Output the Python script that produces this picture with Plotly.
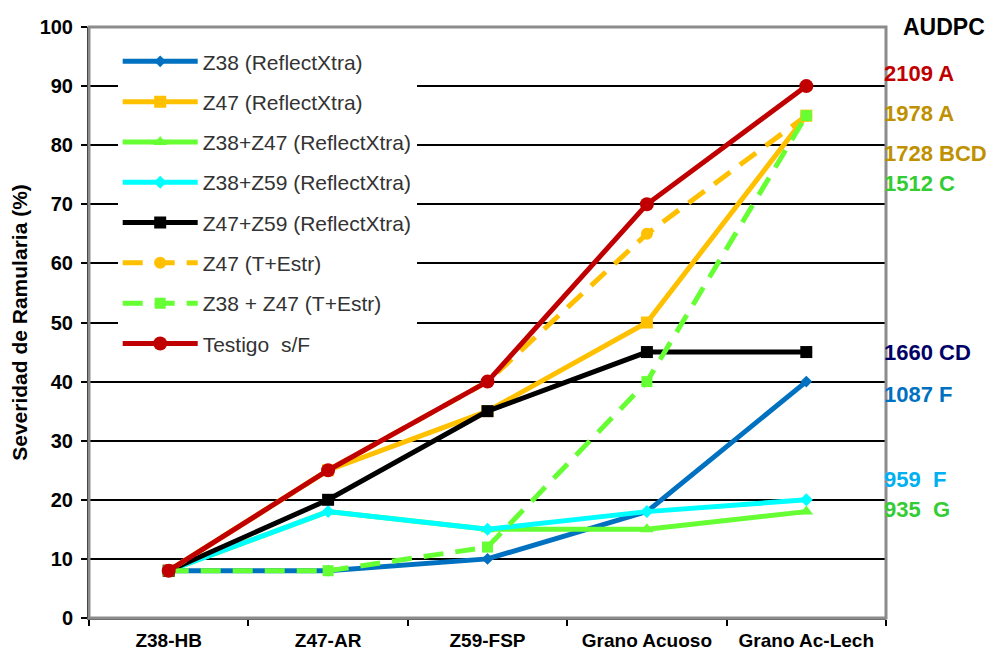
import plotly.graph_objects as go

categories = ["Z38-HB", "Z47-AR", "Z59-FSP", "Grano Acuoso", "Grano Ac-Lech"]

z38_rx = [8, 8, 10, 18, 40]
z47_rx = [8, 25, 35, 50, 85]
z38z47_rx = [8, 18, 15, 15, 18]
z38z59_rx = [8, 18, 15, 18, 20]
z47z59_rx = [8, 20, 35, 45, 45]
z47_te = [8, 25, 40, 65, 85]
z38z47_te = [8, 8, 12, 40, 85]
testigo = [8, 25, 40, 70, 90]

series_names = ["Z38 (ReflectXtra)", "Z47 (ReflectXtra)", "Z38+Z47 (ReflectXtra)",
                "Z38+Z59 (ReflectXtra)", "Z47+Z59 (ReflectXtra)", "Z47 (T+Estr)",
                "Z38 + Z47 (T+Estr)", "Testigo  s/F"]

audpc_labels = ["2109 A", "1978 A", "1728 BCD", "1512 C", "1660 CD", "1087 F", "959  F", "935  G"]
audpc_ypos = [92.2, 85.4, 78.6, 73.6, 45.0, 37.8, 23.4, 18.3]
audpc_colors = ["#C00000", "#BF9000", "#BF9000", "#33CC33", "#000066", "#0070C0", "#00B0F0", "#33CC33"]

series = [
    (z38_rx, "#0070C0", "diamond", 9, "solid"),
    (z47_rx, "#FFC000", "square", 12, "solid"),
    (z38z47_rx, "#66FF33", "triangle-up", 12, "solid"),
    (z38z59_rx, "#00FFFF", "diamond", 10, "solid"),
    (z47z59_rx, "#000000", "square", 12, "solid"),
    (z47_te, "#FFC000", "circle", 12, "20px,12px"),
    (z38z47_te, "#66FF33", "square", 11, "20px,12px"),
    (testigo, "#C00000", "circle", 14, "solid"),
]

fig = go.Figure()
for name, (vals, col, sym, sz, dash) in zip(series_names, series):
    fig.add_trace(go.Scatter(
        x=categories, y=vals, name=name, mode="lines+markers",
        line=dict(color=col, width=5, dash=dash),
        marker=dict(color=col, symbol=sym, size=sz),
        legendgroup=name,
    ))

for lab, yv, col in zip(audpc_labels, audpc_ypos, audpc_colors):
    fig.add_annotation(x=1.0, xref="paper", y=yv, yref="y", text="<b>" + lab + "</b>",
                       showarrow=False, xanchor="left", yanchor="middle", xshift=-4,
                       font=dict(family="Liberation Sans, Arial", size=22, color=col))
fig.add_annotation(x=1.0, xref="paper", y=100, yref="y", text="<b>AUDPC</b>",
                   showarrow=False, xanchor="left", yanchor="middle", xshift=15,
                   font=dict(family="Liberation Sans, Arial", size=23, color="black"))

fig.add_shape(type="rect", xref="paper", yref="paper", x0=0, y0=0, x1=1, y1=1,
              line=dict(color="#8C8C8C", width=3), layer="above")

fig.update_layout(
    width=987, height=645,
    margin=dict(l=81, r=109, t=19, b=35),
    paper_bgcolor="white", plot_bgcolor="white",
    showlegend=True,
    legend=dict(x=0.036, y=0.976, xanchor="left", yanchor="top",
                bgcolor="white", borderwidth=0,
                font=dict(family="Liberation Sans, Arial", size=21, color="#333333"),
                tracegroupgap=10, itemwidth=75),
    font=dict(family="Liberation Sans, Arial", color="black"),
)
fig.update_xaxes(type="category", tickson="boundaries", ticks="outside", ticklen=6,
                 tickcolor="black", tickwidth=2, showgrid=False, automargin=False,
                 showline=True, linecolor="#555555", linewidth=2, tickangle=0,
                 tickfont=dict(family="Liberation Sans, Arial", size=19, color="black"),
                 tickprefix="<b>", ticksuffix="</b>", ticklabelstandoff=4,
                 range=[-0.5, 4.5])
fig.update_yaxes(range=[0, 100], dtick=10, ticks="outside", ticklen=6, tickcolor="black",
                 tickwidth=2, showline=True, linecolor="black", linewidth=2, automargin=False,
                 showgrid=True, gridcolor="black", gridwidth=2, zeroline=False,
                 tickfont=dict(family="Liberation Sans, Arial", size=20, color="black"),
                 tickprefix="<b>", ticksuffix="</b>", ticklabelstandoff=4,
                 title=dict(text="<b>Severidad de Ramularia (%)</b>", standoff=8,
                            font=dict(family="Liberation Sans, Arial", size=21, color="black")))

fig.write_html("out.html")
